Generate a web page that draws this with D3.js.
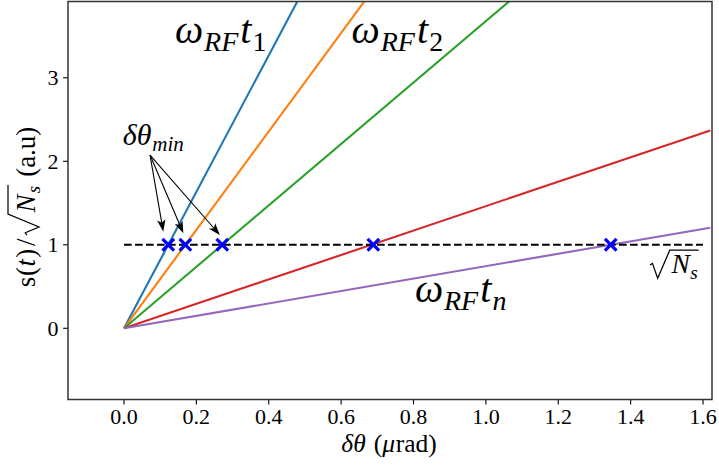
<!DOCTYPE html>
<html><head><meta charset="utf-8">
<script src="https://cdn.jsdelivr.net/npm/d3@7"></script>
<style>body{margin:0;background:#fff}svg{display:block}</style>
</head><body><svg id="c" width="719" height="470"></svg>
<script>
// ---- data ----
const xTicks = [0.0, 0.2, 0.4, 0.6, 0.8, 1.0, 1.2, 1.4, 1.6];
const yTicks = [0, 1, 2, 3];
const seriesNames = ["t1", "t2", "t3", "t4", "tn"];
const thetaPoints = [0.0, 1.62];            // δθ at the two ends of each line
const signal_t1 = [0, 13.24];
const signal_t2 = [0, 9.55];
const signal_t3 = [0, 5.96];
const signal_t4 = [0, 2.37];
const signal_tn = [0, 1.205];
const thresholdX = [0.0, 1.6];              // sqrt(Ns) reference line
const thresholdY = [1, 1];
const deltaThetaMin = [0.1224, 0.1696, 0.2716, 0.689, 1.345];
const arrowFrom = [0.072, 2.075];
const arrowToX = [0.1086, 0.164, 0.265];
const arrowToY = [1.157, 1.137, 1.117];

const colors = ["#1f77b4", "#ff7f0e", "#2ca02c", "#d62728", "#9467bd"];
const allSignals = [signal_t1, signal_t2, signal_t3, signal_t4, signal_tn];
const FONT = "'Liberation Serif', 'DejaVu Serif', serif";

// ---- layout ----
const L = 68, T = 1.5, R = 712, B = 399.5;
const svg = d3.select("#c").attr("font-family", FONT);
const x = d3.scaleLinear().domain([-0.1547, 1.6248]).range([L, R]);
const y = d3.scaleLinear().domain([-0.853, 3.914]).range([B, T]);

svg.append("defs").append("clipPath").attr("id", "clip")
  .append("rect").attr("x", L).attr("y", T).attr("width", R - L).attr("height", B - T);

const plot = svg.append("g").attr("clip-path", "url(#clip)");
const line = d3.line().x(d => x(d[0])).y(d => y(d[1]));

seriesNames.forEach((n, i) => {
  const pts = thetaPoints.map((t, j) => [t, allSignals[i][j]]);
  plot.append("path").attr("d", line(pts)).attr("fill", "none")
    .attr("stroke", colors[i]).attr("stroke-width", 2.1);
});

plot.append("path").attr("d", line(thresholdX.map((t, j) => [t, thresholdY[j]])))
  .attr("fill", "none").attr("stroke", "#000").attr("stroke-width", 2.1)
  .attr("stroke-dasharray", "7.7,3.3");

const m = 5.8;
deltaThetaMin.forEach(v => {
  const cx = x(v), cy = y(1);
  plot.append("path")
    .attr("d", `M${cx - m},${cy - m}L${cx + m},${cy + m}M${cx - m},${cy + m}L${cx + m},${cy - m}`)
    .attr("stroke", "#0000ff").attr("stroke-width", 3.2).attr("fill", "none");
});

// arrows
arrowToX.forEach((tx, i) => {
  const x0 = x(arrowFrom[0]), y0 = y(arrowFrom[1]);
  const x1 = x(tx), y1 = y(arrowToY[i]);
  const dx = x1 - x0, dy = y1 - y0, len = Math.hypot(dx, dy);
  const ux = dx / len, uy = dy / len, px = -uy, py = ux;
  const hl = 12, hw = 4.2, notch = 9;
  const bx = x1 - ux * hl, by = y1 - uy * hl;
  const nx = x1 - ux * notch, ny = y1 - uy * notch;
  svg.append("line").attr("x1", x0).attr("y1", y0).attr("x2", nx).attr("y2", ny)
    .attr("stroke", "#000").attr("stroke-width", 1.1);
  svg.append("path")
    .attr("d", `M${x1},${y1}L${bx + px * hw},${by + py * hw}L${nx},${ny}L${bx - px * hw},${by - py * hw}Z`)
    .attr("fill", "#000");
});

// ---- math text helper ----
function layoutSegs(g, segs, fs, x0) {
  let xx = x0;
  for (const s of segs) {
    if (s.sp !== undefined) { xx += s.sp * fs; continue; }
    if (s.rad) {
      const top = (s.top || 0.84) * fs, bot = (s.bot || 0.18) * fs;
      const rwf = s.rw || 0.72;
      const start = xx, rw = rwf * fs;
      xx += rw + 0.06 * fs;
      xx = layoutSegs(g, s.rad, fs, xx);
      const end = xx + 0.03 * fs;
      g.append("path")
        .attr("d", `M${start},${-0.30 * fs}L${start + 0.09 * fs},${-0.36 * fs}L${start + 0.39 * rw},${bot}L${start + rw},${-top}L${end},${-top}`)
        .attr("fill", "none").attr("stroke", "#000").attr("stroke-width", 0.045 * fs);
      xx = end;
      continue;
    }
    const size = s.sub ? fs * 0.7 : fs;
    const t = g.append("text").attr("x", xx).attr("y", s.sub ? 0.2 * fs : 0)
      .attr("font-family", FONT).attr("fill", "#000")
      .attr("font-size", size).attr("font-style", s.i ? "italic" : "normal").text(s.t);
    xx += t.node().getComputedTextLength() + (s.after || 0) * fs;
  }
  return xx;
}
function mathLabel(segs, fs, px, py, anchor, rot) {
  const outer = svg.append("g").attr("transform", `translate(${px},${py})${rot ? ` rotate(${rot})` : ""}`);
  const inner = outer.append("g");
  layoutSegs(inner, segs, fs, 0);
  const bb = inner.node().getBBox();
  const shift = anchor === "middle" ? -(bb.x + bb.width / 2) : anchor === "end" ? -(bb.x + bb.width) : 0;
  inner.attr("transform", `translate(${shift},0)`);
  return outer;
}

// ---- axes ----
const axG = svg.append("g");
axG.selectAll(".xt").data(xTicks).enter().append("line")
  .attr("x1", d => x(d)).attr("x2", d => x(d)).attr("y1", B).attr("y2", B + 4.9)
  .attr("stroke", "#000").attr("stroke-width", 1.1);
axG.selectAll(".xl").data(xTicks).enter().append("text")
  .attr("x", d => x(d)).attr("y", 424).attr("text-anchor", "middle").attr("font-size", 22)
  .attr("font-family", FONT).attr("fill", "#000")
  .text(d => d.toFixed(1));
axG.selectAll(".yt").data(yTicks).enter().append("line")
  .attr("x1", L - 4.9).attr("x2", L).attr("y1", d => y(d)).attr("y2", d => y(d))
  .attr("stroke", "#000").attr("stroke-width", 1.1);
axG.selectAll(".yl").data(yTicks).enter().append("text")
  .attr("x", 58.5).attr("y", d => y(d) + 7.5).attr("text-anchor", "end").attr("font-size", 22)
  .attr("font-family", FONT).attr("fill", "#000")
  .text(d => d);

svg.append("rect").attr("x", L).attr("y", T).attr("width", R - L).attr("height", B - T)
  .attr("fill", "none").attr("stroke", "#333").attr("stroke-width", 1.5);

function drawLabels() {
  const omega = (sub, subItalic) => [
    { t: "ω", i: 1, after: 0.02 }, { t: "RF", i: 1, sub: 1, after: 0.05 }, { t: "t", i: 1, after: 0.03 }, { t: sub, i: subItalic, sub: 1 }
  ];
  mathLabel(omega("1", 0), 40, x(0.141), y(3.413), "start");
  mathLabel(omega("2", 0), 40, x(0.629), y(3.413), "start");
  mathLabel(omega("n", 1), 40, x(0.804), y(0.319), "start");
  mathLabel([{ rad: [{ t: "N", i: 1, after: 0.02 }, { t: "s", i: 1, sub: 1 }] }], 27.5, x(1.4534), y(0.659), "start");
  mathLabel([{ t: "δθ", i: 1, after: 0.03 }, { t: "min", i: 1, sub: 1 }], 30, x(-0.0036), y(2.195), "start");

  // axis labels
  mathLabel([{ t: "δθ", i: 1, after: 0.02 }, { sp: 0.3 }, { t: "(" }, { t: "μ", i: 1, after: 0.02 }, { t: "rad)" }], 25.5, 389, 451.5, "middle");
  mathLabel([{ t: "s", after: 0.03 }, { t: "(", after: 0.02 }, { t: "t", i: 1, after: 0.05 }, { t: ")", after: 0.1 }, { t: "/", after: 0.12 },
    { rad: [{ t: "N", i: 1, after: 0.05 }, { t: "s", i: 1, sub: 1 }], top: 1.0, bot: 0.15, rw: 0.78 }, { sp: 0.3 }, { t: "(a.u)" }],
    27, 35, 207, "middle", -90);
}
drawLabels();
</script></body></html>
